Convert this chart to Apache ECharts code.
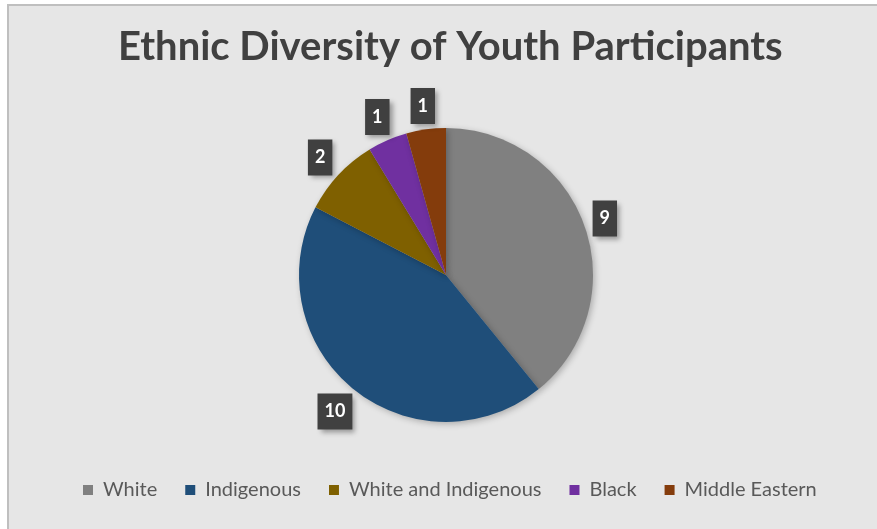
<!DOCTYPE html>
<html>
<head>
<meta charset="utf-8">
<style>
  html, body { margin: 0; padding: 0; background: #ffffff; }
  #chart { width: 877px; height: 529px; }
</style>
<script src="https://cdn.jsdelivr.net/npm/echarts@6/dist/echarts.min.js"></script>
</head>
<body>
<div id="chart"></div>
<script>
// Participant counts by ethnicity
const categories = ['White', 'Indigenous', 'White and Indigenous', 'Black', 'Middle Eastern'];
const counts = [9, 10, 2, 1, 1];
const colors = ['#808080', '#1f4e79', '#7f6000', '#7030a0', '#843c0c'];

const PIE_CENTER = [446, 275];
const PIE_RADIUS = 147;
const LABEL_GAP = 4;

const total = counts.reduce((a, b) => a + b, 0);

// Mid-angle of each slice, measured clockwise from 12 o'clock
function midAngle(i) {
  let before = 0;
  for (let k = 0; k < i; k++) before += counts[k];
  return ((before + counts[i] / 2) / total) * Math.PI * 2;
}

const chart = echarts.init(document.getElementById('chart'));

chart.setOption({
  backgroundColor: '#ffffff',
  color: colors,
  graphic: [{
    type: 'rect',
    z: -10,
    shape: { x: 8, y: 5, width: 880, height: 540 },
    style: { fill: '#e6e6e6', stroke: '#bfbfbf', lineWidth: 2 }
  }],
  title: {
    text: 'Ethnic Diversity of Youth Participants',
    left: 113,
    top: 22,
    textStyle: {
      fontFamily: 'Lato',
      fontWeight: 'bold',
      fontSize: 40,
      color: '#404040'
    }
  },
  legend: {
    bottom: 24,
    left: 78,
    itemWidth: 10,
    itemHeight: 10,
    itemGap: 28,
    icon: 'rect',
    textStyle: {
      fontFamily: 'Lato',
      fontSize: 20,
      color: '#595959',
      padding: [0, 0, 0, 5]
    },
    data: categories
  },
  series: [{
    type: 'pie',
    center: PIE_CENTER,
    radius: PIE_RADIUS,
    startAngle: 90,
    clockwise: true,
    avoidLabelOverlap: false,
    itemStyle: {
      shadowBlur: 6,
      shadowColor: 'rgba(0,0,0,0.25)',
      shadowOffsetX: 2,
      shadowOffsetY: 2
    },
    emphasis: { disabled: true },
    label: {
      show: true,
      position: 'outside',
      formatter: '{c}',
      fontFamily: 'Lato',
      fontWeight: 'bold',
      fontSize: 18,
      color: '#ffffff',
      backgroundColor: '#404040',
      padding: [9, 7, 9, 7],
      shadowColor: 'rgba(0,0,0,0.35)',
      shadowBlur: 5,
      shadowOffsetX: 3,
      shadowOffsetY: 3
    },
    labelLine: { show: false },
    // Data labels sit just outside the rim, centred on each slice's mid-angle
    labelLayout: function (p) {
      const a = midAngle(p.dataIndex);
      const sx = Math.sin(a), sy = -Math.cos(a);
      const w = p.labelRect.width, h = p.labelRect.height;
      const reach = Math.abs(sx) * w / 2 + Math.abs(sy) * h / 2;
      const r = PIE_RADIUS + LABEL_GAP + reach;
      return {
        x: PIE_CENTER[0] + r * sx,
        y: PIE_CENTER[1] + r * sy,
        align: 'center',
        verticalAlign: 'middle'
      };
    },
    data: categories.map((name, i) => ({ name, value: counts[i] }))
  }]
});
</script>
</body>
</html>
